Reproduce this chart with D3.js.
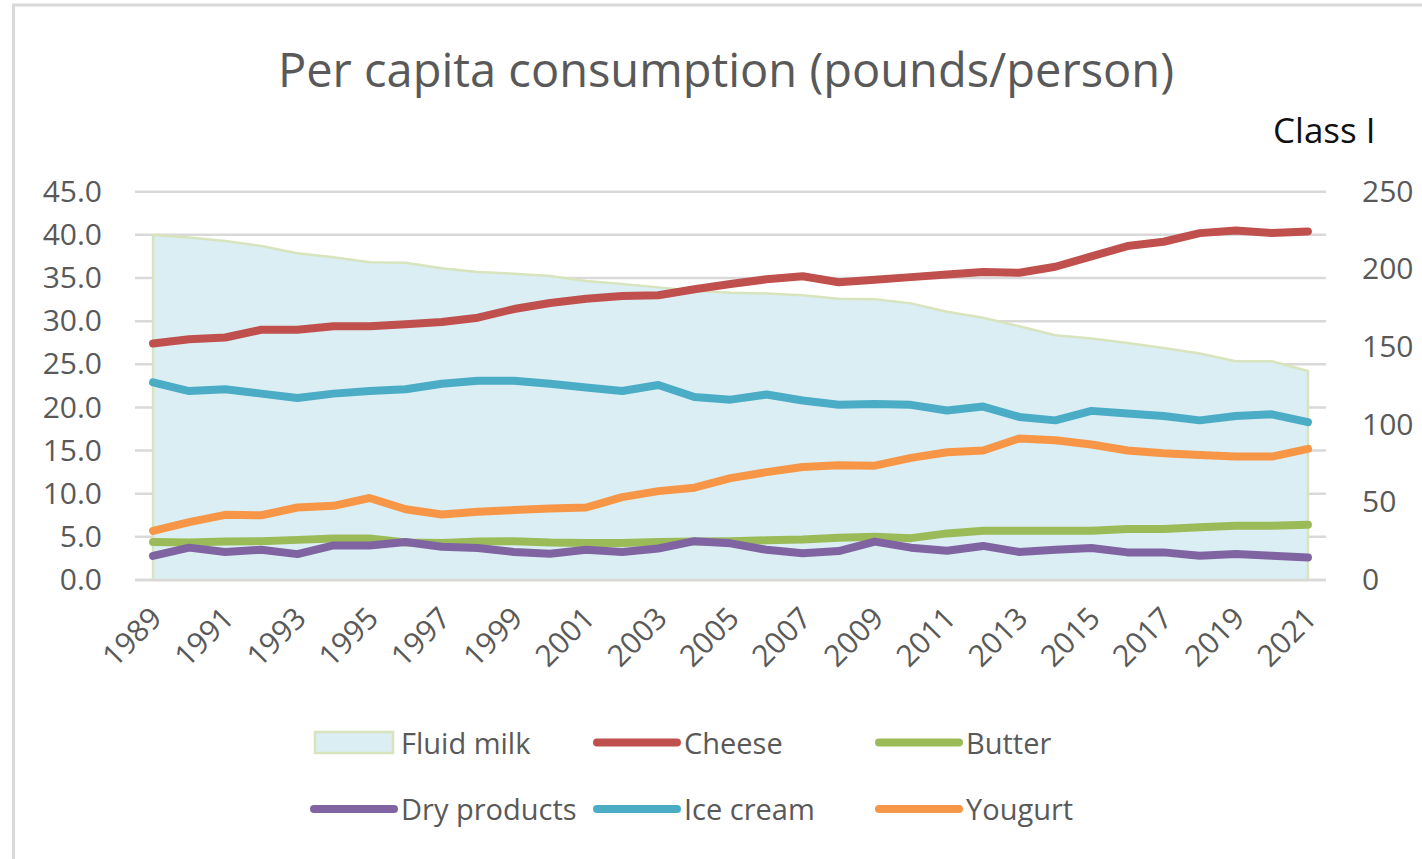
<!DOCTYPE html>
<html>
<head>
<meta charset="utf-8">
<script src="https://cdn.jsdelivr.net/npm/d3@7"></script>
<style>
  html, body { margin: 0; padding: 0; background: #fff; }
  svg { display: block; }
  text { font-family: "Open Sans", "Noto Sans", sans-serif; }
</style>
</head>
<body>
<svg id="chart" width="1422" height="859"></svg>
<script>
// US dairy per capita consumption, pounds per person
const years = d3.range(1989, 2022);
const xTickYears = d3.range(1989, 2022, 2);
const leftTicks = [0, 5, 10, 15, 20, 25, 30, 35, 40, 45];
const rightTicks = [0, 50, 100, 150, 200, 250];

// Class I fluid milk (right axis)
const fluidMilk = [222.2, 220.5, 218.3, 215.1, 210.4, 207.8, 204.6, 204.3, 200.7, 198.3, 197.2,
  195.7, 192.5, 190.6, 188.4, 186.2, 184.9, 184.5, 183.3, 181.1, 180.7,
  178.1, 172.7, 168.8, 163.4, 157.6, 155.5, 152.6, 149.4, 145.8, 140.8, 140.8, 134.6];
const cheese = [27.4, 27.9, 28.1, 29.0, 29.0, 29.4, 29.4, 29.65, 29.9, 30.4, 31.4,
  32.1, 32.6, 32.9, 33.0, 33.7, 34.3, 34.85, 35.2, 34.5, 34.8,
  35.1, 35.4, 35.7, 35.6, 36.3, 37.5, 38.7, 39.2, 40.2, 40.5, 40.2, 40.4];
const butter = [4.4, 4.35, 4.45, 4.5, 4.65, 4.8, 4.8, 4.35, 4.3, 4.45, 4.5,
  4.35, 4.3, 4.3, 4.4, 4.45, 4.5, 4.6, 4.7, 4.9, 5.0,
  4.85, 5.4, 5.7, 5.7, 5.7, 5.7, 5.9, 5.9, 6.1, 6.3, 6.3, 6.4];
const dryProducts = [2.8, 3.75, 3.25, 3.5, 3.0, 4.0, 4.0, 4.4, 3.85, 3.7, 3.25,
  3.05, 3.5, 3.25, 3.65, 4.5, 4.25, 3.5, 3.1, 3.35, 4.45,
  3.75, 3.4, 3.95, 3.25, 3.5, 3.7, 3.2, 3.2, 2.8, 3.0, 2.8, 2.6];
const iceCream = [22.9, 21.9, 22.1, 21.6, 21.1, 21.6, 21.9, 22.1, 22.75, 23.1, 23.1,
  22.75, 22.3, 21.9, 22.6, 21.2, 20.9, 21.5, 20.8, 20.3, 20.4,
  20.3, 19.65, 20.1, 18.9, 18.5, 19.6, 19.3, 19.0, 18.5, 19.0, 19.2, 18.3];
const yogurt = [5.7, 6.7, 7.55, 7.5, 8.4, 8.6, 9.5, 8.2, 7.6, 7.9, 8.1,
  8.3, 8.4, 9.6, 10.3, 10.7, 11.8, 12.5, 13.1, 13.3, 13.25,
  14.15, 14.8, 15.0, 16.4, 16.2, 15.7, 15.0, 14.7, 14.5, 14.3, 14.3, 15.2];

const lineSeries = [
  { name: "Cheese", values: cheese, color: "#C0504D" },
  { name: "Butter", values: butter, color: "#9BBB59" },
  { name: "Dry products", values: dryProducts, color: "#8064A2" },
  { name: "Ice cream", values: iceCream, color: "#4BACC6" },
  { name: "Yougurt", values: yogurt, color: "#F79646" }
];

const areaFill = "#DBEEF3";
const areaStroke = "#D7E4BD";
const gridColor = "#D9D9D9";
const textColor = "#595959";

const svg = d3.select("#chart");

// chart frame
svg.append("rect")
  .attr("x", 13.5).attr("y", 5)
  .attr("width", 1422).attr("height", 900)
  .attr("fill", "#fff")
  .attr("stroke", gridColor).attr("stroke-width", 3);

const plot = { left: 135, right: 1326, top: 191.7, bottom: 580 };

const x = d3.scalePoint().domain(years).range([plot.left, plot.right]).padding(0.5);
const yL = d3.scaleLinear().domain([0, 45]).range([plot.bottom, plot.top]);
const yR = d3.scaleLinear().domain([0, 250]).range([plot.bottom, plot.top]);

// gridlines
svg.append("g")
  .selectAll("line").data(leftTicks).join("line")
  .attr("x1", plot.left).attr("x2", plot.right)
  .attr("y1", d => yL(d)).attr("y2", d => yL(d))
  .attr("stroke", gridColor).attr("stroke-width", 2.5);

// fluid milk area on the secondary axis
const area = d3.area()
  .x((d, i) => x(years[i]))
  .y0(yR(0))
  .y1(d => yR(d));
svg.append("path")
  .datum(fluidMilk)
  .attr("d", area)
  .attr("fill", areaFill)
  .attr("stroke", areaStroke)
  .attr("stroke-width", 2.5)
  .attr("stroke-linejoin", "round");

// bottom axis line
svg.append("line")
  .attr("x1", plot.left).attr("x2", plot.right)
  .attr("y1", plot.bottom).attr("y2", plot.bottom)
  .attr("stroke", gridColor).attr("stroke-width", 2.5);

// product lines
const line = d3.line()
  .x((d, i) => x(years[i]))
  .y(d => yL(d));
svg.append("g")
  .selectAll("path").data(lineSeries).join("path")
  .attr("d", d => line(d.values))
  .attr("fill", "none")
  .attr("stroke", d => d.color)
  .attr("stroke-width", 8)
  .attr("stroke-linejoin", "round")
  .attr("stroke-linecap", "round");

// left axis
const leftAxis = svg.append("g")
  .attr("transform", `translate(${plot.left - 33},0)`)
  .call(d3.axisLeft(yL).tickValues(leftTicks).tickFormat(d3.format(".1f")).tickSize(0).tickPadding(0));
leftAxis.select(".domain").remove();
leftAxis.selectAll("text")
  .attr("font-size", 30).attr("fill", textColor)
  .attr("font-family", "Open Sans, sans-serif");

// right axis
const rightAxis = svg.append("g")
  .attr("transform", `translate(${plot.right + 36},0)`)
  .call(d3.axisRight(yR).tickValues(rightTicks).tickSize(0).tickPadding(0));
rightAxis.select(".domain").remove();
rightAxis.selectAll("text")
  .attr("font-size", 30).attr("fill", textColor)
  .attr("font-family", "Open Sans, sans-serif");

// category axis, rotated labels
const bottomAxis = svg.append("g")
  .attr("transform", `translate(0,${plot.bottom})`)
  .call(d3.axisBottom(x).tickValues(xTickYears).tickSize(0).tickPadding(0));
bottomAxis.select(".domain").remove();
bottomAxis.selectAll("text")
  .attr("font-size", 30).attr("fill", textColor)
  .attr("font-family", "Open Sans, sans-serif")
  .attr("text-anchor", "end")
  .attr("dy", null)
  .attr("y", 0)
  .attr("transform", "translate(10,40) rotate(-45)");

// title
svg.append("text")
  .attr("x", 726).attr("y", 87)
  .attr("text-anchor", "middle")
  .attr("font-size", 47).attr("fill", textColor)
  .text("Per capita consumption (pounds/person)");

// secondary axis title
svg.append("text")
  .attr("x", 1273).attr("y", 143)
  .attr("font-size", 35).attr("fill", "#111")
  .text("Class I");

// legend
const legendItems = [
  { name: "Fluid milk", type: "area", col: 0, row: 0 },
  { name: "Cheese", color: "#C0504D", col: 1, row: 0 },
  { name: "Butter", color: "#9BBB59", col: 2, row: 0 },
  { name: "Dry products", color: "#8064A2", col: 0, row: 1 },
  { name: "Ice cream", color: "#4BACC6", col: 1, row: 1 },
  { name: "Yougurt", color: "#F79646", col: 2, row: 1 }
];
const legendCols = [314, 597, 879];
const legendRows = [742.5, 809];
const legend = svg.append("g");
const li = legend.selectAll("g").data(legendItems).join("g")
  .attr("transform", d => `translate(${legendCols[d.col]},${legendRows[d.row]})`);
li.filter(d => d.type === "area").append("rect")
  .attr("x", 1).attr("y", -10.5).attr("width", 78).attr("height", 21)
  .attr("fill", areaFill).attr("stroke", areaStroke).attr("stroke-width", 2.5);
li.filter(d => d.type !== "area").append("line")
  .attr("x1", 0).attr("x2", 80).attr("y1", 0).attr("y2", 0)
  .attr("stroke", d => d.color).attr("stroke-width", 8).attr("stroke-linecap", "round");
li.append("text")
  .attr("x", 87).attr("y", 11)
  .attr("font-size", 29).attr("fill", textColor)
  .text(d => d.name);
</script>
</body>
</html>
